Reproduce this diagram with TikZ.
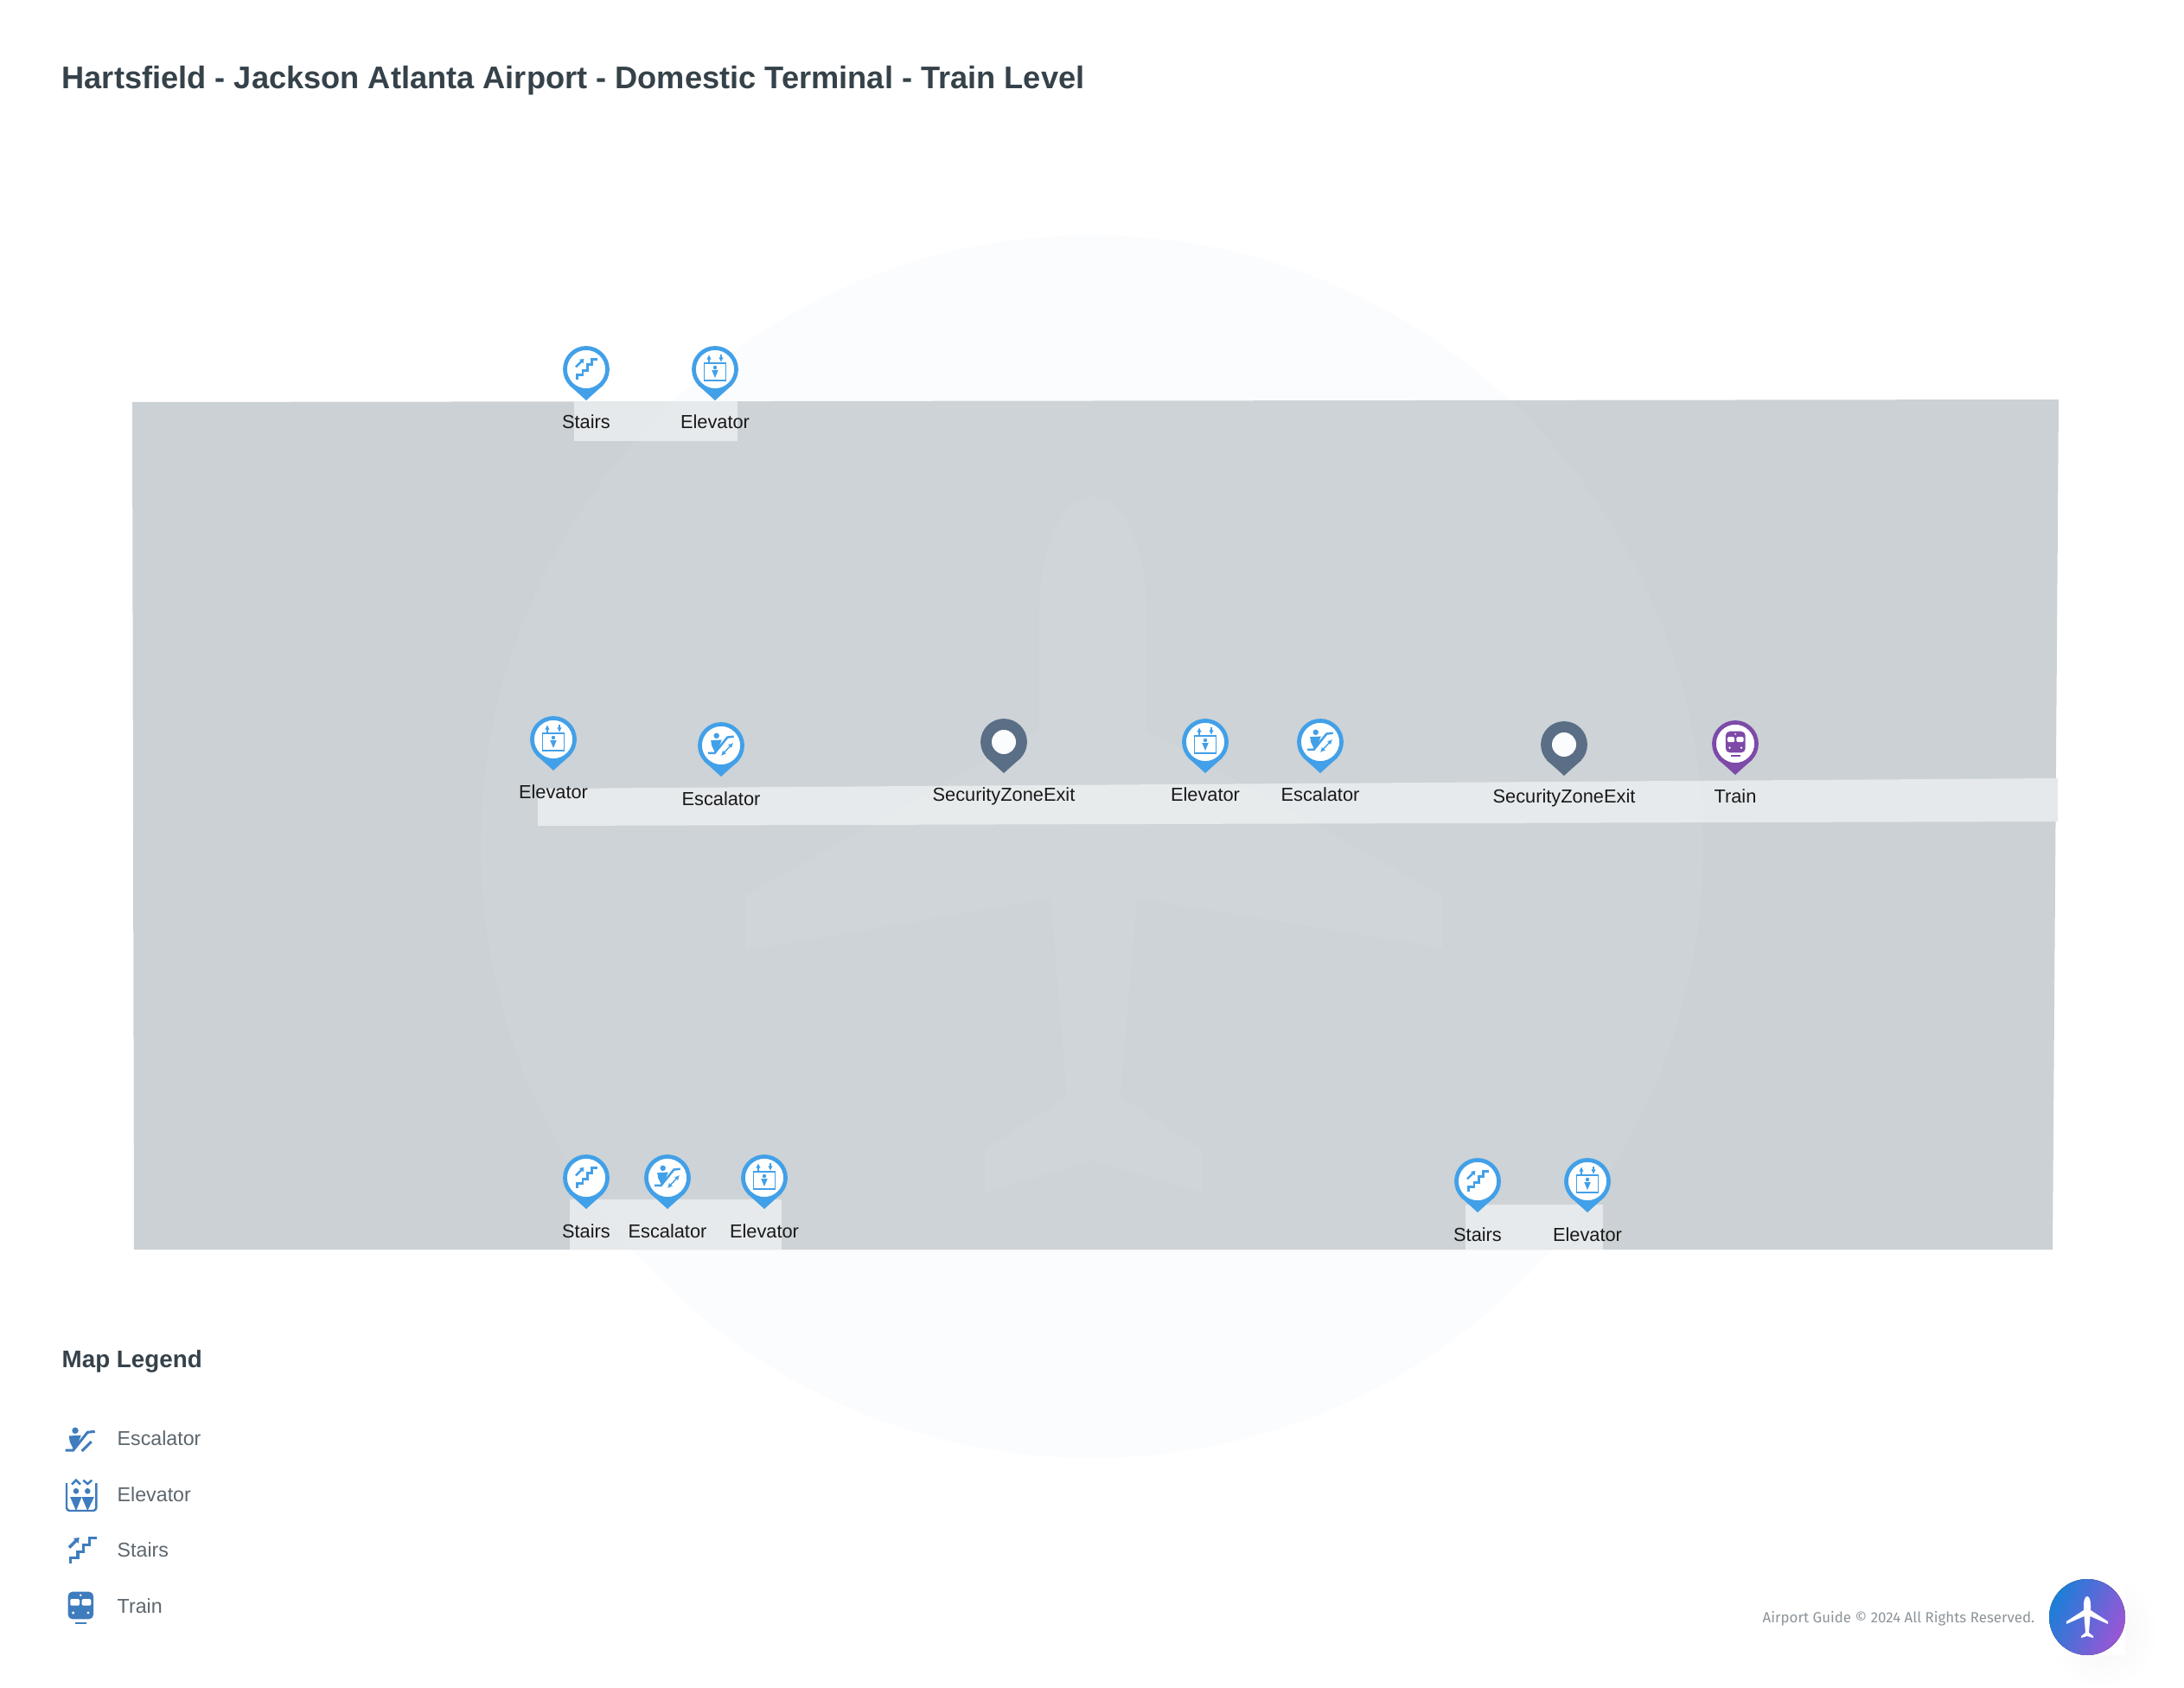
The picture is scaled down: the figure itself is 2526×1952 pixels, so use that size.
\documentclass[tikz,border=0pt]{standalone}
\usepackage{fontspec}
\setmainfont{Liberation Sans}
\newfontfamily\footerfont{Fira Sans}
\usepackage{tikz}
\usetikzlibrary{arrows.meta}

\definecolor{floorgrey}{HTML}{CBD1D4}
\definecolor{corridorgrey}{HTML}{E5E9EB}
\definecolor{haloblue}{HTML}{FBFCFE}
\definecolor{pinblue}{HTML}{42A0E8}
\definecolor{pinpurple}{HTML}{7D4AA8}
\definecolor{pinslate}{HTML}{5A6E85}
\definecolor{legendblue}{HTML}{3F7CBD}
\definecolor{titleink}{HTML}{36424A}
\definecolor{legendink}{HTML}{5C666D}
\definecolor{footerink}{HTML}{8B9499}
\definecolor{buttonblue}{HTML}{1A7FD8}
\definecolor{buttonpurple}{HTML}{9C55D6}

\tikzset{
  tinytip/.style={>={Latex[length=1.6pt,width=1.6pt]}},
  maplabel/.style={anchor=base, font=\fontsize{6.2}{8}\selectfont, text=black!90, inner sep=0pt},
  legendtext/.style={anchor=base west, font=\fontsize{6.6}{8}\selectfont, text=legendink, inner sep=0pt},
  pinring/.style={circle, fill=white, line width=1.35pt, minimum size=0.49cm, inner sep=0pt},
  pics/pinhead/.style={code={
    \fill[#1] (-20,18) -- (0,36) -- (20,18) -- cycle;
    \node[pinring, draw=#1] (ring) at (0,0) {};
  }},
  pics/escalatorfigure/.style={code={
    \fill (-6,-12.7) circle [radius=3.7];
    \filldraw[line width=0.3pt] (-12.7,-6) -- (0,-6.7) -- (-3.3,1.7) -- (-8.3,7.3) -- (-11.7,0) -- cycle;
    \draw (-17.3,10) -- (-8.3,10) -- (8.3,-10.7) -- (16.7,-11.7);
  }},
  pics/escalatoricon/.style={code={
    \pic {escalatorfigure};
    \draw (1.7,11) -- (12.7,0);
  }},
  pics/elevatoricon/.style={code={
    \draw[rounded corners=1pt] (-17,-15) -- (-17,17) -- (17.3,17) -- (17.3,-15);
    \draw (-11,-13.3) -- (-6,-18.3) -- (-1,-13.3);
    \draw (2.3,-18.3) -- (7.3,-14) -- (12.3,-18.3);
    \fill (-6,-5.7) circle [radius=3.3];
    \fill (7.3,-5.7) circle [radius=3.3];
    \filldraw[line width=0.3pt] (-12,1.7) -- (-0.3,1.7) -- (-6,15.7) -- cycle;
    \filldraw[line width=0.3pt] (1.3,1.7) -- (14,1.7) -- (7.3,15.7) -- cycle;
  }},
  pics/stairsicon/.style={code={
    \draw (-13.3,15) -- (-13.3,8.3) -- (-5,8.3) -- (-5,1.7) -- (1.7,1.7) -- (1.7,-6.7) -- (8.3,-6.7) -- (8.3,-14.3) -- (16.7,-14.3);
    \draw (-15,-3.3) -- (-6,-12.3);
    \fill (-3.3,-15) -- (-10,-14) -- (-4.3,-8.3) -- cycle;
  }},
  pics/trainicon/.style={code={
    \fill[rounded corners=1.4pt] (-14.3,-18.3) rectangle (15,13.3);
    \fill[white, rounded corners=0.4pt] (-11.7,-10) rectangle (-1,-2.3);
    \fill[white, rounded corners=0.4pt] (1.7,-10) rectangle (12.3,-2.3);
    \fill[white] (0.3,-14.3) circle [radius=1.4];
    \fill[white] (-8.3,6) circle [radius=1.7];
    \fill[white] (9,6) circle [radius=1.7];
    \draw (-6,17.7) -- (7.3,17.7);
  }},
  pics/stairspin/.style={code={
    \pic {pinhead=pinblue};
    \pic[color=pinblue, line width=0.7pt, scale=0.8] {stairsicon};
  }},
  pics/escalatorpin/.style={code={
    \pic {pinhead=pinblue};
    \pic[color=pinblue, line width=0.7pt, scale=0.88] {escalatorfigure};
    \draw[pinblue, line width=0.4pt, tinytip, <->] (0,12) -- (14,-3);
  }},
  pics/elevatorpin/.style={code={
    \pic {pinhead=pinblue};
    \draw[pinblue, line width=0.5pt] (-12.5,-7) rectangle (12.5,13);
    \draw[pinblue, line width=0.35pt, tinytip, ->] (-7,-8) -- (-7,-17);
    \draw[pinblue, line width=0.35pt, tinytip, ->] (7,-17) -- (7,-8);
    \fill[pinblue] (0,-2) circle [radius=2.2];
    \fill[pinblue] (-3.8,1) -- (3.8,1) -- (0,10) -- cycle;
  }},
  pics/trainpin/.style={code={
    \pic {pinhead=pinpurple};
    \pic[color=pinpurple, line width=0.5pt, scale=0.78] {trainicon};
  }},
  pics/exitpin/.style={code={
    \pic {pinhead=pinslate};
    \fill[pinslate] (0,0) circle [radius=25];
    \fill[haloblue] (0,0) circle [radius=14];
  }},
}

\begin{document}
\begin{tikzpicture}[x=0.01cm, y=-0.01cm]
  \useasboundingbox (0,0) rectangle (2526,1952);

  % Backdrop
  \fill[haloblue] (1263,979) circle [radius=707];

  % Floor and corridors
  \fill[floorgrey] (153,465) -- (2381,462) -- (2374,1445) -- (155,1445) -- cycle;
  \fill[corridorgrey] (664,464) rectangle (853,510);
  \fill[corridorgrey] (622,912) -- (2380,900) -- (2380,950) -- (622,955) -- cycle;
  \fill[corridorgrey] (659,1387) rectangle (904,1445);
  \fill[corridorgrey] (1695,1393) rectangle (1854,1445);

  % Watermark over the floor
  \fill[white, opacity=0.05] (1263,979) circle [radius=707];
  \fill[white, opacity=0.05] (1264,575) .. controls (1225,575) and (1202,640) .. (1202,710)
    -- (1202,844) -- (862,1036) -- (862,1099) -- (1215,1039) -- (1234,1268) -- (1139,1329)
    -- (1139,1379) -- (1264,1342) -- (1390,1379) -- (1390,1329) -- (1296,1268) -- (1315,1039)
    -- (1669,1096) -- (1669,1036) -- (1326,844) -- (1326,710)
    .. controls (1326,640) and (1303,575) .. (1264,575) -- cycle;

  % Title
  \node[anchor=base west, inner sep=0pt, text=titleink, font=\fontsize{10.3}{14}\selectfont\bfseries] (title) at (71,103) {Hartsfield - Jackson Atlanta Airport - Domestic Terminal - Train Level};

  % Top pins
  \pic (stairsTop) at (678,427) {stairspin};
  \node[maplabel] (stairsToptext) at (678,496) {Stairs};
  \pic (elevatorTop) at (827,427) {elevatorpin};
  \node[maplabel] (elevatorToptext) at (827,496) {Elevator};

  % Middle pins
  \pic (elevatorWest) at (640,855) {elevatorpin};
  \node[maplabel] (elevatorWesttext) at (640,923) {Elevator};
  \pic (escalatorWest) at (834,862) {escalatorpin};
  \node[maplabel] (escalatorWesttext) at (834,931) {Escalator};
  \pic (exitWest) at (1161,858) {exitpin};
  \node[maplabel] (exitWesttext) at (1161,926) {SecurityZoneExit};
  \pic (elevatorMid) at (1394,858) {elevatorpin};
  \node[maplabel] (elevatorMidtext) at (1394,926) {Elevator};
  \pic (escalatorMid) at (1527,858) {escalatorpin};
  \node[maplabel] (escalatorMidtext) at (1527,926) {Escalator};
  \pic (exitEast) at (1809,861) {exitpin};
  \node[maplabel] (exitEasttext) at (1809,929) {SecurityZoneExit};
  \pic (trainMid) at (2007,860) {trainpin};
  \node[maplabel] (trainMidtext) at (2007,929) {Train};

  % Bottom pins
  \pic (stairsSouth) at (678,1362) {stairspin};
  \node[maplabel] (stairsSouthtext) at (678,1431) {Stairs};
  \pic (escalatorSouth) at (772,1362) {escalatorpin};
  \node[maplabel] (escalatorSouthtext) at (772,1431) {Escalator};
  \pic (elevatorSouth) at (884,1362) {elevatorpin};
  \node[maplabel] (elevatorSouthtext) at (884,1431) {Elevator};
  \pic (stairsEast) at (1709,1366) {stairspin};
  \node[maplabel] (stairsEasttext) at (1709,1435) {Stairs};
  \pic (elevatorEast) at (1836,1366) {elevatorpin};
  \node[maplabel] (elevatorEasttext) at (1836,1435) {Elevator};

  % Legend
  \node[anchor=base west, inner sep=0pt, text=titleink, font=\fontsize{7.9}{10}\selectfont\bfseries] (legendtitle) at (71,1581) {Map Legend};
  \pic[color=legendblue, line width=0.85pt] at (93,1667) {escalatoricon};
  \node[legendtext] (legendescalator) at (135,1671) {Escalator};
  \pic[color=legendblue, line width=0.7pt] at (94,1730) {elevatoricon};
  \node[legendtext] (legendelevator) at (135,1736) {Elevator};
  \pic[color=legendblue, line width=1pt] at (95,1793) {stairsicon};
  \node[legendtext] (legendstairs) at (135,1800) {Stairs};
  \pic[color=legendblue, line width=0.6pt] at (93,1859) {trainicon};
  \node[legendtext] (legendtrain) at (135,1865) {Train};

  % Footer and button
  \node[anchor=base west, inner sep=0pt, text=footerink, font=\footerfont\fontsize{4.8}{6}\selectfont] (footer) at (2038,1876) {Airport Guide © 2024 All Rights Reserved.};
  \fill[inner color=black!4, outer color=white] (2363,1818) rectangle (2497,1952);
  \fill[white] (2370,1826) rectangle (2458,1914);
  \fill[left color=buttonblue, right color=buttonpurple, shading angle=65] (2414,1870) circle [radius=44];
  \fill[white] (2414,1846) .. controls (2411,1846) and (2410,1852) .. (2410,1856)
    -- (2410,1862) -- (2390,1875) -- (2390,1878) -- (2410.5,1869) -- (2412,1888) -- (2407,1892)
    -- (2407,1894) -- (2414,1892) -- (2421,1894) -- (2421,1892) -- (2416,1888) -- (2417.5,1869)
    -- (2438,1878) -- (2438,1875) -- (2418,1862) -- (2418,1856)
    .. controls (2418,1852) and (2417,1846) .. (2414,1846) -- cycle;
\end{tikzpicture}
\end{document}
